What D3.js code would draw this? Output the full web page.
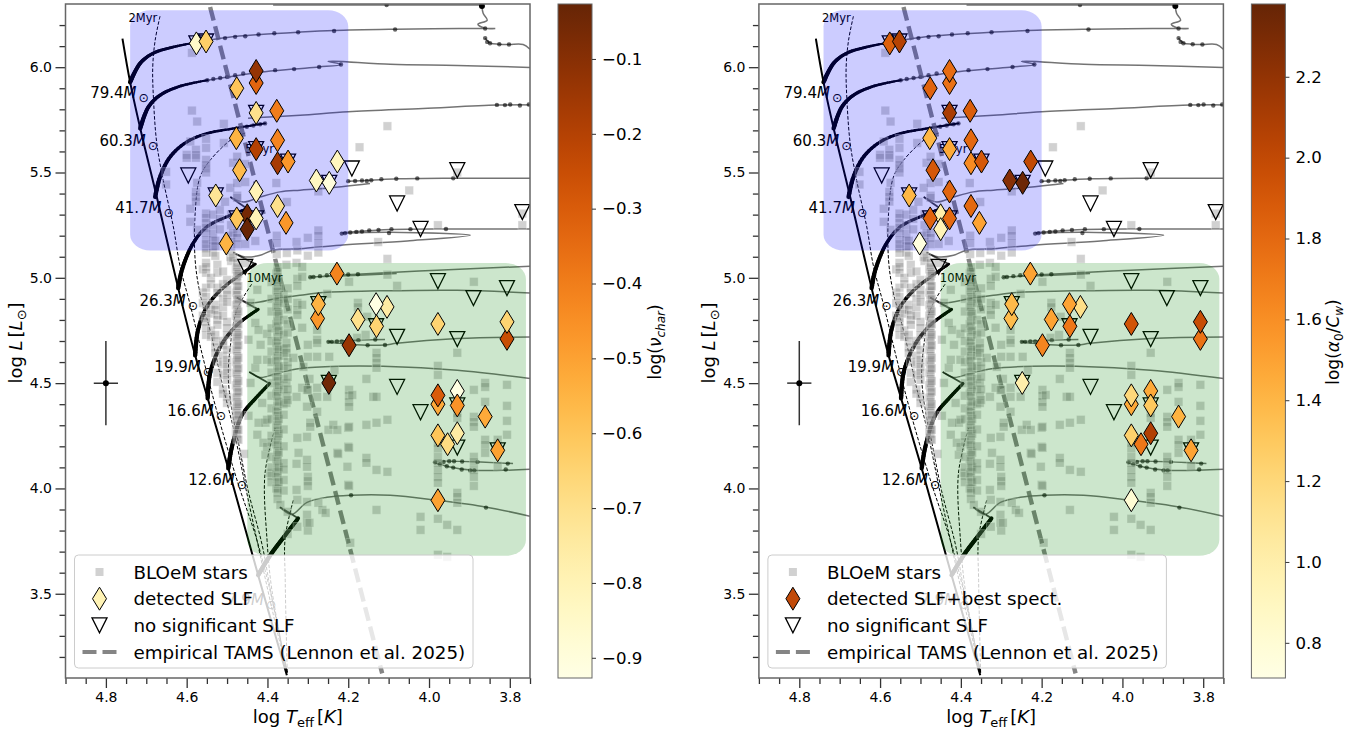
<!DOCTYPE html>
<html>
<head>
<meta charset="utf-8">
<title>BLOeM SLF HRD</title>
<script src="https://cdn.jsdelivr.net/npm/d3@7"></script>
<style>
    body { margin: 0; background: #fff; }
    text { font-family: "DejaVu Sans", sans-serif; fill: #000; }
</style>
</head>
<body>
<div id="chart"></div>
<script>
// stars with a detected SLF, both panels show the same stars
const slfTeff = [4.576,4.552,4.428,4.428,4.476,4.428,4.377,4.477,4.428,4.375,4.375,4.349,4.469,4.428,4.528,4.375,4.354,4.45,4.476,4.428,4.45,4.502,4.227,4.279,4.247,4.228,4.276,4.274,4.104,4.131,4.176,4.13,4.198,3.978,3.807,3.807,4.248,3.978,3.978,3.93,3.93,3.861,3.978,3.954,3.93,3.83,3.978];
const slfLum = [6.113,6.122,5.925,5.982,5.9,5.783,5.793,5.663,5.611,5.653,5.544,5.552,5.511,5.41,5.391,5.341,5.261,5.297,5.282,5.282,5.231,5.163,5.552,5.462,5.451,5.02,4.807,4.875,4.862,4.875,4.802,4.77,4.68,4.781,4.71,4.791,4.501,4.4,4.442,4.463,4.394,4.341,4.252,4.21,4.262,4.181,3.944];
const slfNuChar = [-0.85,-0.63,-0.33,-0.13,-0.6,-0.7,-0.4,-0.55,-0.2,-0.42,-0.17,-0.47,-0.57,-0.8,-0.72,-0.7,-0.47,-0.06,-0.6,-0.8,-0.03,-0.55,-0.82,-0.83,-0.9,-0.42,-0.47,-0.55,-0.75,-0.92,-0.7,-0.65,-0.14,-0.65,-0.25,-0.65,-0.05,-0.52,-0.3,-0.92,-0.46,-0.52,-0.6,-0.68,-0.75,-0.5,-0.5];
const slfAlpha = [1.85,2.05,1.75,1.78,1.83,2.1,1.87,1.4,1.47,1.8,1.62,1.9,1.9,1.82,1.4,1.8,1.5,1.0,1.83,1.8,0.95,0.75,2.0,2.25,2.35,1.5,1.37,1.38,1.15,1.5,1.5,1.72,1.65,1.92,1.75,1.97,1.0,1.47,1.2,1.47,1.3,1.42,1.25,1.72,2.07,1.5,0.8];

// triangles, some of them sit right under a diamond
const noSlfTeff = [4.596,4.576,4.552,4.428,4.428,4.349,4.528,4.476,4.428,4.455,4.191,3.93,4.079,4.021,3.769,4.247,3.978,3.807,3.89,4.274,4.131,4.079,3.93,4.248,4.079,4.021,3.93,3.93,3.83];
const noSlfLum = [5.486,6.113,6.122,5.783,5.611,5.552,5.391,5.282,5.282,5.052,5.519,5.511,5.353,5.232,5.312,5.451,4.984,4.951,4.904,4.875,4.77,4.72,4.709,4.501,4.482,4.362,4.394,4.194,4.181];

// whole BLOeM sample, Teff is binned so it is kept per column: [logT, [logL...]]
const bloemColumns = [
    [4.651,[5.503,5.443]],
    [4.6,[5.584,5.57]],
    [4.591,[5.647,5.328,5.266]],
    [4.587,[6.068,5.794]],
    [4.577,[5.608,5.584,5.57,5.408,5.385,5.362]],
    [4.574,[5.742,5.451,5.228]],
    [4.56,[5.04,4.93,4.88,4.82]],
    [4.552,[5.66,5.617,5.56,5.537,5.52,5.5,5.305,5.285,5.26,5.237,5.214,5.18,5.16,5.14,5.119,5.071,5.052,5.024,4.953,4.91,4.872,4.81,4.791,4.763,4.729]],
    [4.54,[5.0,4.97,4.85,4.83,4.75,4.72]],
    [4.535,[5.3,5.25,5.21,5.18,5.15,5.12]],
    [4.529,[5.176,5.15,5.104,4.872,4.848,4.729,4.7,4.67,4.644]],
    [4.524,[5.062,5.024,4.953,4.929,4.824,4.801,4.777,4.601,4.549,4.506]],
    [4.518,[5.323,5.28,5.23]],
    [4.51,[5.03,4.97,4.9,4.86,4.82,4.7,4.68,4.63,4.59,4.54,4.47,4.45]],
    [4.508,[5.64,5.731]],
    [4.505,[5.361,5.161]],
    [4.5,[4.99,4.943,4.92,4.886,4.791,4.763,4.729,4.658,4.611,4.577,4.549,4.516,4.435,4.406]],
    [4.492,[5.427,5.099]],
    [4.49,[5.3,5.25,5.2,5.17,5.13,5.08]],
    [4.485,[5.546,5.214,5.095]],
    [4.478,[5.04,4.99,4.93,4.87,4.82,4.76,4.71,4.66,4.6,4.55,4.49,4.43,4.38,4.33,4.27]],
    [4.475,[5.575,5.45,5.39,5.38,5.214,5.19,5.16,5.07,5.05,5.03,5.01,4.985,4.96,4.94,4.92,4.895,4.875,4.85,4.83,4.81,4.785,4.765,4.74,4.72,4.7,4.675,4.655,4.63,4.61,4.59,4.565,4.545,4.52,4.5,4.48,4.455,4.435,4.41,4.39,4.37,4.345,4.325,4.3,4.28,4.26,4.235]],
    [4.472,[5.02,4.96,4.9,4.84,4.78,4.73,4.68,4.62,4.57,4.51,4.46,4.4,4.35,4.278,4.231]],
    [4.458,[4.164]],
    [4.455,[5.54,5.455,5.161,5.07]],
    [4.447,[4.706,4.345]],
    [4.442,[4.881,4.501]],
    [4.43,[5.175,4.786,4.573]],
    [4.425,[4.943,4.611,4.255]],
    [4.422,[4.753,4.312]],
    [4.417,[4.682]],
    [4.413,[4.406]],
    [4.41,[4.217]],
    [4.405,[4.312,4.16]],
    [4.401,[4.734,4.611,4.326,4.198]],
    [4.393,[4.074]],
    [4.39,[4.98,4.9,4.84,4.76,4.7,4.65,4.6,4.55,4.5,4.44,4.38,4.33,4.25,4.22,4.15,4.1,4.06,4.03]],
    [4.378,[5.45,5.02,4.94,4.86,4.78,4.69,4.61,4.53,4.45,4.37,4.29,4.21,4.14,4.07,4.0]],
    [4.377,[5.2,5.165,5.113]],
    [4.375,[5.05,5.03,5.005,4.98,4.96,4.935,4.91,4.89,4.865,4.84,4.82,4.795,4.77,4.745,4.72,4.7,4.675,4.65,4.63,4.605,4.58,4.555,4.53,4.51,4.485,4.46,4.44,4.415,4.39,4.365,4.345,4.32,4.3,4.275,4.25,4.23,4.205,4.18,4.16,4.13,4.105,4.08,4.055,4.03,4.0,3.98,3.95]],
    [4.372,[4.99,4.9,4.83,4.75,4.66,4.57,4.49,4.41,4.33,4.26,4.17,4.1,4.03]],
    [4.368,[3.922]],
    [4.36,[4.92,4.88,4.8,4.73,4.66,4.63,4.58,4.52,4.47,4.4,4.35,4.28,4.2,4.12,4.09,4.04,3.99]],
    [4.353,[5.062,4.691,4.667,4.644,4.501,4.44,4.406]],
    [4.352,[5.36,5.118]],
    [4.35,[4.95,4.9,4.85,4.78,4.74,4.6,4.57,4.53,4.47,4.42,3.784,3.889]],
    [4.336,[4.62]],
    [4.328,[5.17,5.071,4.435,4.117,3.993]],
    [4.326,[5.13,4.995,4.962,4.881,4.848,4.824,4.24,3.946,3.818]],
    [4.323,[4.169]],
    [4.314,[5.052,4.763,5.005,4.872,4.478]],
    [4.311,[4.577]],
    [4.302,[4.468,4.245,4.388,4.136,4.103,3.936,3.875,3.837]],
    [4.3,[5.19,5.105,4.682,4.625,4.468,4.055,4.035,4.012,3.8]],
    [4.296,[4.52,3.837]],
    [4.294,[4.312,4.293]],
    [4.277,[4.753,4.706,4.691,4.625,4.478,4.435,4.364]],
    [4.274,[5.41,5.225,5.2,5.165,5.12,3.932]],
    [4.264,[3.898]],
    [4.256,[3.884]],
    [4.252,[4.924,4.435]],
    [4.249,[4.278]],
    [4.247,[4.625]],
    [4.237,[4.302]],
    [4.234,[4.563]],
    [4.227,[4.278,4.169]],
    [4.225,[4.164]],
    [4.202,[4.103]],
    [4.2,[4.288,4.198,4.017]],
    [4.198,[4.981,4.468,4.44,4.411,4.388,4.293,4.193,4.012]],
    [4.195,[3.742]],
    [4.19,[4.444]],
    [4.178,[4.715]],
    [4.176,[4.881,4.86]],
    [4.172,[5.62]],
    [4.157,[4.729]],
    [4.155,[4.52,4.302,4.145,4.122]],
    [4.153,[4.815]],
    [4.138,[4.435]],
    [4.13,[4.644,4.62,4.596,4.573,4.435,4.312,4.088,3.898]],
    [4.126,[5.17]],
    [4.103,[5.72,5.09,5.015,4.326,4.079]],
    [4.079,[4.962]],
    [4.049,[5.415]],
    [4.021,[3.865,3.803]],
    [3.978,[5.25,4.582,4.539,4.217,4.19,4.15,4.122,4.088,4.055,4.027,3.856,3.685]],
    [3.955,[3.675,3.827]],
    [3.93,[5.5,4.644,4.359,4.335,3.979,3.96,3.932,3.803]],
    [3.889,[4.981,4.468,4.34,4.316,4.293,4.15,4.126,4.088,4.055,4.012]],
    [3.861,[4.501,4.482,4.411,4.231,4.207,4.169]],
    [3.83,[4.231,4.107]],
    [3.807,[4.492,4.392,4.321,4.255]],
    [3.769,[5.25,5.305]]
];

// ZAMS and tracks, [logT, logL]
const zamsLine = [[4.759,6.136],[4.74,5.929],[4.715,5.71],[4.674,5.384],[4.621,4.951],[4.579,4.632],[4.548,4.428],[4.497,4.096],[4.423,3.588],[4.352,3.113]];

// main sequence part of each track, and how thick it gets at the end
const msTracks = [
    [[4.74,5.929],[4.715,6.019],[4.683,6.066],[4.633,6.096],[4.584,6.115]],
    [[4.715,5.71],[4.695,5.81],[4.666,5.867],[4.616,5.91],[4.549,5.938]],
    [[4.678,5.384],[4.666,5.479],[4.641,5.574],[4.6,5.645],[4.55,5.685],[4.485,5.709],[4.406,5.733]],
    [[4.621,4.951],[4.612,5.036],[4.584,5.164],[4.55,5.242],[4.492,5.297],[4.451,5.329]],
    [[4.579,4.632],[4.572,4.751],[4.55,4.862],[4.517,4.94],[4.476,5.003],[4.43,5.065]],
    [[4.548,4.428],[4.542,4.547],[4.517,4.672],[4.476,4.775],[4.423,4.85]],
    [[4.497,4.096],[4.488,4.197],[4.463,4.348],[4.426,4.435],[4.395,4.498]],
    [[4.423,3.588],[4.393,3.683],[4.356,3.778],[4.324,3.858]]
];
const msEndWidths = [2,2,1.8,2.4,2.8,3,3.2,3.8];

// everything after the main sequence
const postMsTracks = [
    [[4.584,6.115],[4.5,6.141],[4.418,6.155],[4.324,6.166],[4.235,6.174],[4.084,6.18],[3.861,6.185],[3.836,6.184],[3.861,6.185],[3.879,6.204],[3.856,6.223],[3.866,6.256],[3.869,6.29]],
    [[4.386,6.295],[3.869,6.295]],
    [[3.861,6.138],[3.849,6.115],[3.826,6.109],[3.802,6.108],[3.767,6.108],[3.75,6.085]],
    [[4.549,5.938],[4.485,5.957],[4.418,5.976],[4.334,5.991],[4.272,6.001],[4.218,6.013],[4.25,6.028],[4.096,6.014],[3.93,6.008],[3.75,5.999]],
    [[4.448,5.758],[4.319,5.772],[4.2,5.788],[4.015,5.804],[3.832,5.82],[3.75,5.821]],
    [[4.492,5.384],[4.46,5.36],[4.418,5.384],[4.369,5.408],[4.319,5.416],[4.262,5.424],[4.146,5.448]],
    [[4.2,5.459],[4.146,5.463],[4.079,5.47],[3.94,5.473],[3.75,5.473]],
    [[4.485,5.12],[4.455,5.099],[4.418,5.107],[4.386,5.131],[4.319,5.138],[4.22,5.155],[4.054,5.175],[3.898,5.202],[4.096,5.216],[4.216,5.213],[4.096,5.229],[3.955,5.232],[3.75,5.232]],
    [[4.08,5.02],[4.294,5.004],[4.179,5.017],[3.98,5.036],[3.75,5.055]],
    [[4.476,4.906],[4.443,4.881],[4.377,4.902],[4.319,4.917],[4.262,4.93],[4.121,4.938],[3.93,4.941],[3.75,4.928]],
    [[4.109,4.707],[4.25,4.696],[4.154,4.68],[4.109,4.681],[4.08,4.689],[3.93,4.712],[3.75,4.719]],
    [[4.445,4.553],[4.418,4.527],[4.377,4.546],[4.319,4.569],[4.228,4.58],[4.114,4.58],[3.93,4.561],[3.75,4.522]],
    [[3.792,4.118],[3.989,4.126],[3.948,4.102],[3.891,4.086],[3.75,4.091]],
    [[4.369,3.911],[4.34,3.877],[4.302,3.934],[4.253,3.958],[4.195,3.968],[4.096,3.968],[3.98,3.944],[3.857,3.911],[3.75,3.868]]
];
// turn-off hooks, these join ms to the post ms lines
const hookLines = [
    [[4.451,5.329],[4.492,5.384]],
    [[4.43,5.065],[4.485,5.12]],
    [[4.423,4.85],[4.476,4.906]],
    [[4.395,4.498],[4.445,4.553]],
    [[4.324,3.858],[4.369,3.911]]
];

// time steps along the tracks
const trackDots = [
    [4.505,6.138],[4.48,6.144],[4.455,6.147],[4.422,6.155],[4.383,6.161],[4.324,6.166],[4.235,6.172],[4.084,6.179],[3.861,6.184],[4.105,6.295],[3.861,6.138],[3.856,6.12],[3.849,6.114],[3.826,6.109],[3.802,6.108],
    [4.549,5.938],[4.534,5.944],[4.517,5.949],[4.5,5.954],[4.48,5.962],[4.46,5.97],[4.425,5.981],[4.381,5.986],[4.334,5.991],[4.272,6.001],[4.218,6.013],
    [4.451,5.717],[4.435,5.723],[4.418,5.729],[4.406,5.733],[3.832,5.821],[3.812,5.82],[3.799,5.823],[3.775,5.818],[3.753,5.823],
    [4.2,5.459],[4.183,5.46],[4.166,5.462],[4.154,5.46],[4.143,5.463],[4.118,5.468],[4.081,5.47],[4.029,5.472],[3.94,5.473],
    [4.216,5.21],[4.208,5.212],[4.195,5.215],[4.18,5.218],[4.166,5.22],[4.148,5.225],[4.125,5.227],[4.099,5.213],[4.093,5.231],[4.046,5.231],[3.958,5.232],
    [4.294,5.003],[4.286,5.004],[4.27,5.008],[4.253,5.012],[4.2,5.016],[4.176,5.017],
    [4.249,4.696],[4.241,4.696],[4.228,4.698],[4.216,4.698],[4.175,4.704],[4.133,4.707],[4.152,4.68],[4.109,4.681],
    [3.985,4.124],[3.973,4.115],[3.956,4.105],[3.94,4.099],[3.919,4.09],[3.898,4.085],[3.888,4.085],[3.81,4.09],[3.964,4.126],[3.95,4.129],[3.938,4.129],[3.918,4.128],[3.88,4.126],[3.805,4.118],
    [4.193,3.968],[3.859,3.909]
];

const isochrones = [
    [[4.666,6.242],[4.678,6.128],[4.684,6.001],[4.682,5.843],[4.674,5.639],[4.658,5.463],[4.633,5.242],[4.616,5.052],[4.591,4.87],[4.558,4.609],[4.524,4.357],[4.473,4.025],[4.426,3.754],[4.388,3.469],[4.352,3.127]],
    [[4.455,5.687],[4.485,5.663],[4.542,5.558],[4.567,5.478],[4.579,5.307],[4.579,5.084],[4.567,4.927],[4.542,4.751],[4.51,4.481],[4.485,4.291],[4.451,3.977],[4.426,3.754],[4.388,3.422],[4.351,3.122]],
    [[4.439,4.97],[4.476,4.846],[4.492,4.672],[4.497,4.524],[4.485,4.339],[4.473,4.229],[4.448,3.991],[4.413,3.73],[4.388,3.469],[4.351,3.127]],
    [[4.381,4.286],[4.406,4.072],[4.401,3.754],[4.389,3.517],[4.351,3.122]],
    [[4.336,3.944],[4.356,3.768],[4.356,3.564],[4.351,3.122]]
];
const isoLabels = ["2Myr","5Myr","10Myr"];
const isoLabelTeff = [4.744,4.455,4.452];
const isoLabelLum = [6.233,5.611,5.0];

const massLabels = ["79.4","60.3","41.7","26.3","19.9","16.6","12.6","7.9"];
const massLabelTeff = [4.839,4.816,4.777,4.717,4.68,4.648,4.596,4.5];
const massLabelLum = [5.877,5.653,5.335,4.89,4.58,4.368,4.039,3.47];

const tamsLine = [[4.542,6.286],[4.116,3.122]];

// selection boxes [Tmax, Tmin, Lmin, Lmax]
const blueBox = [4.74,4.2,5.13,6.27];
const greenBox = [4.45,3.76,3.68,5.07];

// typical error bar
const errTeff = 4.8, errLum = 4.5, errTeffSize = 0.03, errLumSize = 0.2;

const xDomain = [4.9,3.75];
const yDomain = [3.1,6.3];
const xMajor = [4.8,4.6,4.4,4.2,4.0,3.8];
const xMinor = [4.85,4.75,4.7,4.65,4.55,4.5,4.45,4.35,4.3,4.25,4.15,4.1,4.05,3.95,3.9,3.85,3.75,4.9];
const yMajor = [3.5,4.0,4.5,5.0,5.5,6.0];
const yMinor = [3.2,3.3,3.4,3.6,3.7,3.8,3.9,4.1,4.2,4.3,4.4,4.6,4.7,4.8,4.9,5.1,5.2,5.3,5.4,5.6,5.7,5.8,5.9,6.1,6.2];

const nuDomain = [-0.927,-0.0266];
const nuTicks = [-0.1,-0.2,-0.3,-0.4,-0.5,-0.6,-0.7,-0.8,-0.9];
const alphaDomain = [0.713,2.38];
const alphaTicks = [0.8,1.0,1.2,1.4,1.6,1.8,2.0,2.2];

class HRPanel{
    constructor(svg, config){
        this.svg = svg;
        this.config = config;
        this.render();
    }
    render(){
        let vis = this;
        let cfg = vis.config;

        vis.width = 464.5;
        vis.height = 674;

        vis.g = vis.svg.append("g")
            .attr("transform", `translate(${65.5 + cfg.offset}, 4)`);

        vis.x = d3.scaleLinear().domain(xDomain).range([0, vis.width]);
        vis.y = d3.scaleLinear().domain(yDomain).range([vis.height, 0]);
        vis.color = d3.scaleSequential(d3.interpolateYlOrBr).domain(cfg.domain);

        vis.line = d3.line().x(d => vis.x(d[0])).y(d => vis.y(d[1]));
        vis.smooth = d3.line().x(d => vis.x(d[0])).y(d => vis.y(d[1])).curve(d3.curveCatmullRom.alpha(0.5));

        vis.g.append("clipPath").attr("id", "clip" + cfg.offset)
            .append("rect").attr("width", vis.width).attr("height", vis.height);
        vis.plot = vis.g.append("g").attr("clip-path", `url(#clip${cfg.offset})`);

        vis.drawTracks();
        vis.drawStars();
        vis.drawLabels();
        vis.drawBoxes();
        vis.drawDiamonds();
        vis.drawAxes();
        vis.drawLegend();
        vis.drawColorbar();
    }
    drawTracks(){
        let vis = this;

        // main sequence: walk along the smooth curve so the width can taper
        msTracks.forEach((track, t) => {
            let temp = vis.plot.append("path").attr("d", vis.smooth(track));
            let node = temp.node();
            let total = node.getTotalLength();
            let width = d3.scaleLinear().domain([0, 1]).range([4.4, msEndWidths[t]]);
            let steps = d3.range(0, 41).map(i => node.getPointAtLength(total * i / 40));
            temp.remove();
            d3.pairs(steps).forEach((pair, i) => {
                vis.plot.append("line")
                    .attr("x1", pair[0].x).attr("y1", pair[0].y)
                    .attr("x2", pair[1].x).attr("y2", pair[1].y)
                    .attr("stroke", "#000")
                    .attr("stroke-linecap", "round")
                    .attr("stroke-width", width(i / 39));
            });
        });

        vis.plot.selectAll(".hook").data(hookLines).enter().append("path")
            .attr("class", "hook")
            .attr("d", vis.line)
            .attr("fill", "none")
            .attr("stroke", "#000")
            .attr("stroke-opacity", 0.75)
            .attr("stroke-width", 1.8);

        vis.plot.selectAll(".post").data(postMsTracks).enter().append("path")
            .attr("class", "post")
            .attr("d", vis.smooth)
            .attr("fill", "none")
            .attr("stroke", "#000")
            .attr("stroke-opacity", 0.55)
            .attr("stroke-width", 1.5);

        vis.plot.selectAll(".tdot").data(trackDots).enter().append("circle")
            .attr("class", "tdot")
            .attr("cx", d => vis.x(d[0]))
            .attr("cy", d => vis.y(d[1]))
            .attr("r", 2.2)
            .attr("fill", "#000")
            .attr("fill-opacity", 0.6);

        // the last model of the heaviest track
        vis.plot.append("circle")
            .attr("cx", vis.x(3.869)).attr("cy", vis.y(6.29)).attr("r", 3).attr("fill", "#000");

        vis.plot.append("path")
            .attr("d", vis.smooth(zamsLine))
            .attr("fill", "none")
            .attr("stroke", "#000")
            .attr("stroke-width", 2);

        vis.plot.selectAll(".iso").data(isochrones).enter().append("path")
            .attr("class", "iso")
            .attr("d", vis.smooth)
            .attr("fill", "none")
            .attr("stroke", "#000")
            .attr("stroke-width", 1)
            .attr("stroke-dasharray", "3.5,1.8");

        vis.plot.append("path")
            .attr("d", vis.line(tamsLine))
            .attr("fill", "none")
            .attr("stroke", "#666")
            .attr("stroke-opacity", 0.8)
            .attr("stroke-width", 4.4)
            .attr("stroke-dasharray", "14,6");

        // typical uncertainty
        vis.plot.append("line")
            .attr("x1", vis.x(errTeff)).attr("x2", vis.x(errTeff))
            .attr("y1", vis.y(errLum - errLumSize)).attr("y2", vis.y(errLum + errLumSize))
            .attr("stroke", "#333").attr("stroke-width", 1.5);
        vis.plot.append("line")
            .attr("x1", vis.x(errTeff - errTeffSize)).attr("x2", vis.x(errTeff + errTeffSize))
            .attr("y1", vis.y(errLum)).attr("y2", vis.y(errLum))
            .attr("stroke", "#333").attr("stroke-width", 1.5);
        vis.plot.append("circle")
            .attr("cx", vis.x(errTeff)).attr("cy", vis.y(errLum)).attr("r", 3).attr("fill", "#000");
    }
    drawLabels(){
        let vis = this;

        isoLabels.forEach((label, i) => {
            vis.plot.append("text")
                .attr("x", vis.x(isoLabelTeff[i]))
                .attr("y", vis.y(isoLabelLum[i]))
                .attr("dy", "0.35em")
                .style("font-size", "11.5px")
                .text(label);
        });

        massLabels.forEach((label, i) => {
            let txt = vis.plot.append("text")
                .attr("x", vis.x(massLabelTeff[i]))
                .attr("y", vis.y(massLabelLum[i]))
                .attr("dy", "0.35em")
                .style("font-size", "15px");
            txt.append("tspan").text(label);
            txt.append("tspan").style("font-style", "italic").text("M");
            txt.append("tspan").attr("dx", 2).attr("dy", 4).style("font-size", "12.5px").text("\u2299");
        });
    }
    drawStars(){
        let vis = this;

        let stars = bloemColumns.flatMap(col => col[1].map(l => [col[0], l]));
        vis.plot.selectAll(".bloem").data(stars).enter().append("rect")
            .attr("class", "bloem")
            .attr("x", d => vis.x(d[0]) - 4.25)
            .attr("y", d => vis.y(d[1]) - 4.25)
            .attr("width", 8.5)
            .attr("height", 8.5)
            .attr("fill", "#808080")
            .attr("fill-opacity", 0.36)
            .attr("stroke", "#fff")
            .attr("stroke-opacity", 0.3);

        vis.plot.selectAll(".noslf").data(noSlfTeff).enter().append("path")
            .attr("class", "noslf")
            .attr("d", triangleMarker())
            .attr("transform", (d, i) => `translate(${vis.x(d)},${vis.y(noSlfLum[i])})`)
            .attr("fill", "none")
            .attr("stroke", "#000")
            .attr("stroke-width", 1.3);
    }
    drawBoxes(){
        let vis = this;

        // these sit over the tracks and tint them
        [[blueBox, "#0000ff"], [greenBox, "#008000"]].forEach(item => {
            let b = item[0];
            vis.plot.append("rect")
                .attr("x", vis.x(b[0]))
                .attr("y", vis.y(b[3]))
                .attr("width", vis.x(b[1]) - vis.x(b[0]))
                .attr("height", vis.y(b[2]) - vis.y(b[3]))
                .attr("rx", 20)
                .attr("ry", 16)
                .attr("fill", item[1])
                .attr("fill-opacity", 0.2);
        });
    }
    drawDiamonds(){
        let vis = this;
        let values = vis.config.values;

        vis.plot.selectAll(".slf").data(slfTeff).enter().append("path")
            .attr("class", "slf")
            .attr("d", diamondMarker())
            .attr("transform", (d, i) => `translate(${vis.x(d)},${vis.y(slfLum[i])})`)
            .attr("fill", (d, i) => vis.color(values[i]))
            .attr("stroke", "#000")
            .attr("stroke-width", 1);
    }
    drawAxes(){
        let vis = this;

        vis.g.append("g").attr("class", "axis")
            .attr("transform", `translate(0, ${vis.height})`)
            .call(d3.axisBottom(vis.x).tickValues(xMajor).tickSize(10).tickPadding(4).tickFormat(d3.format(".1f")));
        vis.g.append("g").attr("class", "axis minor")
            .attr("transform", `translate(0, ${vis.height})`)
            .call(d3.axisBottom(vis.x).tickValues(xMinor).tickSize(6).tickFormat(""));
        vis.g.append("g").attr("class", "axis")
            .call(d3.axisLeft(vis.y).tickValues(yMajor).tickSize(10).tickPadding(3.5).tickFormat(d3.format(".1f")));
        vis.g.append("g").attr("class", "axis minor")
            .call(d3.axisLeft(vis.y).tickValues(yMinor).tickSize(6).tickFormat(""));

        vis.g.selectAll(".axis .domain").remove();
        vis.g.selectAll(".axis line").attr("stroke", "#333").attr("stroke-width", 1.3);
        vis.g.selectAll(".axis text").style("font-size", "14px").style("font-family", "'DejaVu Sans'").attr("fill", "#000");

        vis.g.append("rect")
            .attr("width", vis.width)
            .attr("height", vis.height)
            .attr("fill", "none")
            .attr("stroke", "#666")
            .attr("stroke-width", 1.5);

        let xLabel = vis.g.append("text")
            .attr("x", vis.width / 2)
            .attr("y", vis.height + 45)
            .attr("text-anchor", "middle")
            .style("font-size", "18px");
        xLabel.append("tspan").text("log ");
        xLabel.append("tspan").style("font-style", "italic").text("T");
        xLabel.append("tspan").attr("dy", 4).style("font-size", "13px").text("eff");
        xLabel.append("tspan").attr("dy", -4).attr("dx", 3).text("[");
        xLabel.append("tspan").style("font-style", "italic").text("K");
        xLabel.append("tspan").text("]");

        let yLabel = vis.g.append("text")
            .attr("transform", `translate(-44, ${vis.height / 2 + 2}) rotate(-90)`)
            .attr("text-anchor", "middle")
            .style("font-size", "18px");
        yLabel.append("tspan").text("log ");
        yLabel.append("tspan").style("font-style", "italic").text("L");
        yLabel.append("tspan").attr("dx", 3).text("[");
        yLabel.append("tspan").style("font-style", "italic").text("L");
        yLabel.append("tspan").attr("dy", 4).style("font-size", "13px").text("\u2299");
        yLabel.append("tspan").attr("dy", -4).text("]");
    }
    drawLegend(){
        let vis = this;
        let cfg = vis.config;

        let legend = vis.g.append("g").attr("transform", "translate(9, 551)");
        legend.append("rect")
            .attr("width", 398.5)
            .attr("height", 113)
            .attr("rx", 4)
            .attr("fill", "#fff")
            .attr("fill-opacity", 0.8)
            .attr("stroke", "#ccc");

        let rows = ["BLOeM stars", cfg.legendLabel, "no significant SLF", "empirical TAMS (Lennon et al. 2025)"];
        rows.forEach((label, i) => {
            legend.append("text")
                .attr("x", 59)
                .attr("y", 17 + i * 26.7)
                .attr("dy", "0.36em")
                .style("font-size", "18.3px")
                .text(label);
        });

        legend.append("rect")
            .attr("x", 21).attr("y", 13).attr("width", 8).attr("height", 8)
            .attr("fill", "#808080").attr("fill-opacity", 0.36);
        legend.append("path")
            .attr("d", diamondMarker())
            .attr("transform", `translate(25, ${17 + 26.7})`)
            .attr("fill", cfg.legendColor)
            .attr("stroke", "#000");
        legend.append("path")
            .attr("d", triangleMarker())
            .attr("transform", `translate(25, ${17 + 2 * 26.7})`)
            .attr("fill", "none")
            .attr("stroke", "#000")
            .attr("stroke-width", 1.3);
        legend.append("line")
            .attr("x1", 8).attr("x2", 43)
            .attr("y1", 17 + 3 * 26.7).attr("y2", 17 + 3 * 26.7)
            .attr("stroke", "#666")
            .attr("stroke-opacity", 0.8)
            .attr("stroke-width", 4)
            .attr("stroke-dasharray", "14,6");
    }
    drawColorbar(){
        let vis = this;
        let cfg = vis.config;

        let id = "grad" + cfg.offset;
        let grad = vis.svg.append("defs").append("linearGradient")
            .attr("id", id)
            .attr("x1", 0).attr("x2", 0).attr("y1", 1).attr("y2", 0);
        d3.range(0, 1.001, 0.05).forEach(t => {
            grad.append("stop")
                .attr("offset", t)
                .attr("stop-color", d3.interpolateYlOrBr(t));
        });

        let bar = vis.svg.append("g").attr("transform", `translate(${558 + cfg.offset}, 4)`);
        bar.append("rect")
            .attr("width", 34)
            .attr("height", vis.height)
            .attr("fill", `url(#${id})`)
            .attr("stroke", "#666");

        let scale = d3.scaleLinear().domain(cfg.domain).range([vis.height, 0]);
        let axis = bar.append("g")
            .attr("transform", "translate(34, 0)")
            .call(d3.axisRight(scale).tickValues(cfg.ticks).tickSize(4).tickPadding(6).tickFormat(d3.format(".1f")));
        axis.select(".domain").remove();
        axis.selectAll("line").attr("stroke", "#333");
        axis.selectAll("text").style("font-size", "16.6px").style("font-family", "'DejaVu Sans'").attr("fill", "#000");

        let label = vis.svg.append("text")
            .attr("transform", `translate(${cfg.labelX}, 342) rotate(-90)`)
            .attr("text-anchor", "middle")
            .style("font-size", "17px");
        cfg.barLabel(label);
    }
}

function diamondMarker(){
    return d3.symbol().type({
        draw(ctx, size){
            let a = Math.sqrt(size);
            ctx.moveTo(0, -a * 0.82);
            ctx.lineTo(a * 0.5, 0);
            ctx.lineTo(0, a * 0.82);
            ctx.lineTo(-a * 0.5, 0);
            ctx.closePath();
        }
    }).size(196)();
}

function triangleMarker(){
    return d3.symbol().type({
        draw(ctx, size){
            let a = Math.sqrt(size);
            ctx.moveTo(-a / 2, -a / 2);
            ctx.lineTo(a / 2, -a / 2);
            ctx.lineTo(0, a / 2);
            ctx.closePath();
        }
    }).size(225)();
}

let svg = d3.select("#chart").append("svg")
    .attr("width", 1368)
    .attr("height", 731)
    .style("display", "block");

new HRPanel(svg, {
    offset: 0,
    values: slfNuChar,
    domain: nuDomain,
    ticks: nuTicks,
    labelX: 661,
    legendLabel: "detected SLF",
    legendColor: "#fff3b5",
    barLabel: t => {
        t.append("tspan").text("log(");
        t.append("tspan").style("font-style", "italic").text("\u03bd");
        t.append("tspan").attr("dy", 4).style("font-size", "12px").style("font-style", "italic").text("char");
        t.append("tspan").attr("dy", -4).text(")");
    }
});

new HRPanel(svg, {
    offset: 693.4,
    values: slfAlpha,
    domain: alphaDomain,
    ticks: alphaTicks,
    labelX: 1339,
    legendLabel: "detected SLF+best spect.",
    legendColor: "#c14a09",
    barLabel: t => {
        t.append("tspan").text("log(");
        t.append("tspan").style("font-style", "italic").text("\u03b1");
        t.append("tspan").attr("dy", 4).style("font-size", "12px").text("0");
        t.append("tspan").attr("dy", -4).text("/");
        t.append("tspan").style("font-style", "italic").text("C");
        t.append("tspan").attr("dy", 4).style("font-size", "12px").style("font-style", "italic").text("w");
        t.append("tspan").attr("dy", -4).text(")");
    }
});
</script>
</body>
</html>
